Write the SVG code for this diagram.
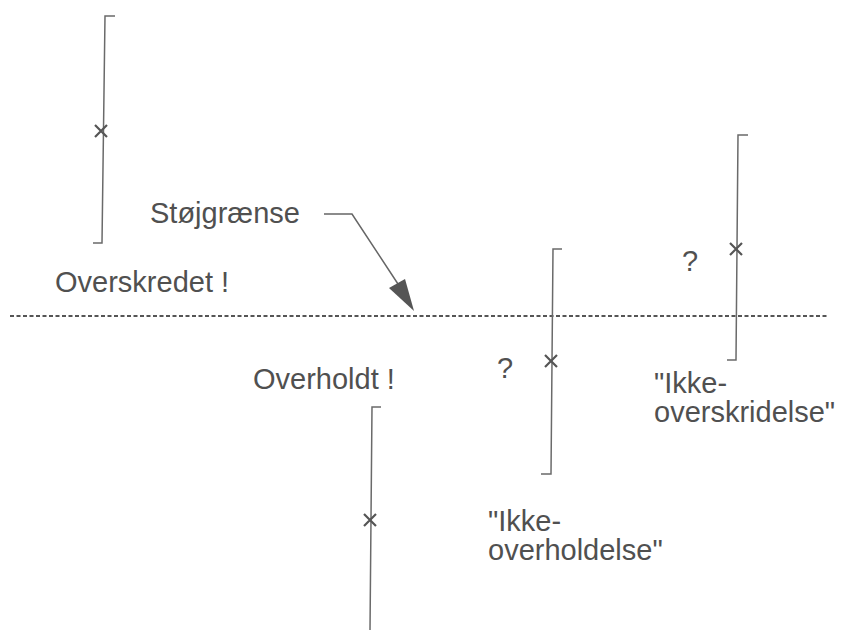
<svg xmlns="http://www.w3.org/2000/svg" width="860" height="630" viewBox="0 0 860 630">
<style>
text{font-family:"Liberation Sans",Arial,sans-serif;font-size:29px;fill:#505050}
.bar{fill:none;stroke:#6a6a6a;stroke-width:1.5}
.x{stroke:#555;stroke-width:2.2}
</style>
<rect width="860" height="630" fill="#fff"/>
<g id="limit">
<line x1="10" y1="316" x2="828" y2="316" stroke="#555" stroke-width="2" stroke-dasharray="4,2.5"/>
</g>
<g id="bar1">
<path class="bar" d="M115,16 H105 L102,243 H93"/>
<path class="x" d="M95,125 L107,137 M107,125 L95,137"/>
<text x="55" y="292">Overskredet !</text>
</g>
<g id="bar2">
<path class="bar" d="M562,249 H553 L551,474 H541"/>
<path class="x" d="M545,355 L557,367 M557,355 L545,367"/>
<text x="497" y="378">?</text>
<text x="488" y="531">"Ikke-</text>
<text x="488" y="560">overholdelse"</text>
</g>
<g id="bar3">
<path class="bar" d="M748,135 H738 L736,360 H727"/>
<path class="x" d="M730,243 L742,255 M742,243 L730,255"/>
<text x="682" y="271">?</text>
<text x="654" y="393">"Ikke-</text>
<text x="654" y="422">overskridelse"</text>
</g>
<g id="bar4">
<path class="bar" d="M381,407 H372 L370,630"/>
<path class="x" d="M364,514 L376,526 M376,514 L364,526"/>
<text x="253" y="389">Overholdt !</text>
</g>
<g id="label">
<text x="150" y="223">Støjgrænse</text>
</g>
<g id="connectors">
<path d="M324,214 H352 L398,284" fill="none" stroke="#666" stroke-width="1.5"/>
<polygon points="414,311 389,288 405,279" fill="#555"/>
</g>
</svg>
